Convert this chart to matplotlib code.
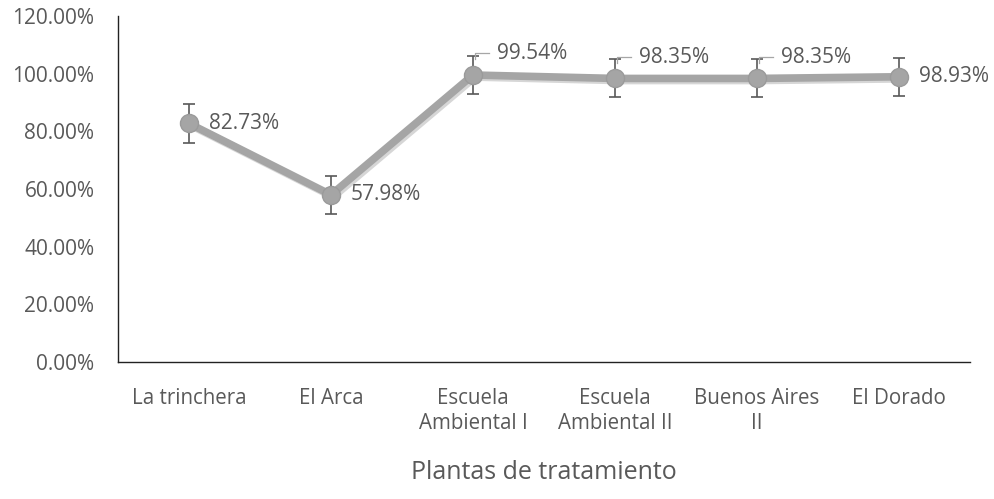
import matplotlib
matplotlib.use("Agg")
from matplotlib import pyplot as plt
import matplotlib.patheffects as pe

# data
plantas = ["La trinchera", "El Arca", "Escuela\nAmbiental I", "Escuela\nAmbiental II",
           "Buenos Aires\nII", "El Dorado"]
eficiencia = [82.73, 57.98, 99.54, 98.35, 98.35, 98.93]
error = [6.6, 6.6, 6.6, 6.6, 6.6, 6.6]
yticks = [0, 20, 40, 60, 80, 100, 120]

plt.rcParams['font.family'] = ['Open Sans', 'DejaVu Sans']
txt = '#595959'

fig = plt.figure(figsize=(9.95, 4.99), dpi=100)
ax = fig.add_axes([0.1186, 0.2745, 0.8563, 0.6934])
x = list(range(len(plantas)))

shadow = [pe.SimpleLineShadow(offset=(1.5, -1.5), shadow_color='#bbbbbb', alpha=0.6), pe.Normal()]
ax.plot(x, eficiencia, color='#a5a5a5', lw=5.5, zorder=2, path_effects=shadow)
ax.errorbar(x, eficiencia, yerr=error, fmt='none', ecolor='#595959', elinewidth=1.2,
            capsize=4, capthick=1.2, zorder=3)
ax.plot(x, eficiencia, 'o', ms=13, color='#a5a5a5', mec='#9a9a9a', zorder=4)

# data labels
for i, v in enumerate(eficiencia):
    lab = '%.2f%%' % v
    if i in (2, 3, 4):
        ax.text(i + 0.17, v + 7.3, lab, fontsize=15, color=txt, va='center', ha='left')
        ax.plot([i + 0.11, i + 0.015, i + 0.015], [v + 7.6, v + 7.6, v + 5.4], color='#a6a6a6', lw=0.9, zorder=5)
    else:
        ax.text(i + 0.14, v, lab, fontsize=15, color=txt, va='center', ha='left')

ax.set_xlim(-0.5, len(plantas) - 0.5)
ax.set_ylim(0, 120)
ax.set_yticks(yticks)
ax.set_yticklabels(['%.2f%%' % t for t in yticks], fontsize=15, color=txt)
ax.set_xticks(x)
ax.set_xticklabels(plantas, fontsize=14.8, color=txt, linespacing=1.2)
ax.tick_params(length=0, pad=19)
ax.tick_params(axis='y', pad=17)
for s in ['top', 'right']:
    ax.spines[s].set_visible(False)
for s in ['left', 'bottom']:
    ax.spines[s].set_color('#222222')
    ax.spines[s].set_linewidth(1)
ax.set_xlabel('Plantas de tratamiento', fontsize=18, color=txt, labelpad=19)

fig.savefig('out.png', dpi=100)
